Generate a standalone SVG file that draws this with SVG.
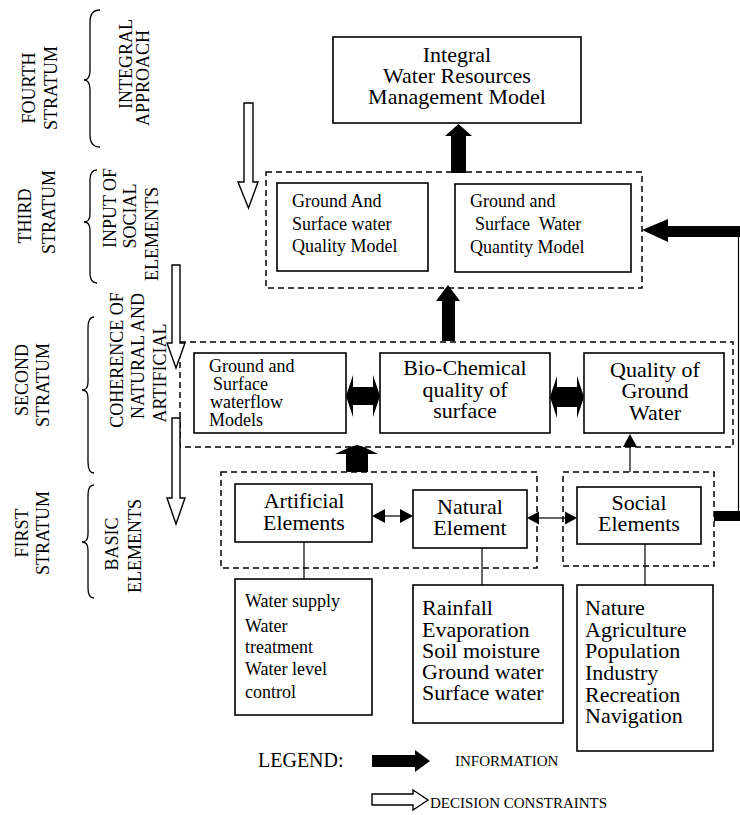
<svg xmlns="http://www.w3.org/2000/svg" width="740" height="815" viewBox="0 0 740 815">
<style>
.t{font-family:"Liberation Serif","Times New Roman",serif;fill:#000}
.box{fill:#fff;stroke:#000;stroke-width:1.6}
.dash{fill:none;stroke:#000;stroke-width:1.5;stroke-dasharray:6 4}
.info{fill:#000;stroke:none}
.hollow{fill:#fff;stroke:#000;stroke-width:1.4;stroke-linejoin:miter}
.thin{fill:none;stroke:#000;stroke-width:1.2}
.brace{fill:none;stroke:#000;stroke-width:1.3}
.lbl{font-size:18px}
.b22{font-size:22px}
.b18{font-size:18px}
</style>
<rect width="740" height="815" fill="#fff"/>

<g id="strata-labels">
  <path class="brace" d="M100,10 Q90,10 90,22 L90,70 Q90,80 84,80 Q90,80 90,90 L90,135 Q90,147 100,147"/>
  <path class="brace" d="M97,170 Q90,170 90,180 L90,214 Q90,222 84,222 Q90,222 90,230 L90,273 Q90,283 97,283"/>
  <path class="brace" d="M94,317 Q88,317 88,328 L88,382 Q88,390 82,390 Q88,390 88,398 L88,462 Q88,473 94,473"/>
  <path class="brace" d="M94,485 Q88,485 88,495 L88,534 Q88,542 82,542 Q88,542 88,550 L88,588 Q88,598 94,598"/>
  <text class="t lbl" text-anchor="middle" transform="translate(35,88) rotate(-90)">FOURTH</text>
  <text class="t lbl" text-anchor="middle" transform="translate(57,88) rotate(-90)">STRATUM</text>
  <text class="t lbl" text-anchor="middle" transform="translate(132,64) rotate(-90)">INTEGRAL</text>
  <text class="t lbl" text-anchor="middle" transform="translate(149,78) rotate(-90)">APPROACH</text>
  <text class="t lbl" text-anchor="middle" transform="translate(31,216) rotate(-90)">THIRD</text>
  <text class="t lbl" text-anchor="middle" transform="translate(55,212) rotate(-90)">STRATUM</text>
  <text class="t lbl" text-anchor="middle" transform="translate(116,208) rotate(-90)">INPUT OF</text>
  <text class="t lbl" text-anchor="middle" transform="translate(136,216) rotate(-90)">SOCIAL</text>
  <text class="t lbl" text-anchor="middle" transform="translate(158,234) rotate(-90)">ELEMENTS</text>
  <text class="t lbl" text-anchor="middle" transform="translate(28,380) rotate(-90)">SECOND</text>
  <text class="t lbl" text-anchor="middle" transform="translate(49,385) rotate(-90)">STRATUM</text>
  <text class="t lbl" text-anchor="middle" transform="translate(123,360) rotate(-90)">COHERENCE OF</text>
  <text class="t lbl" text-anchor="middle" transform="translate(144,356) rotate(-90)">NATURAL AND</text>
  <text class="t lbl" text-anchor="middle" transform="translate(166,373) rotate(-90)">ARTIFICIAL</text>
  <text class="t lbl" text-anchor="middle" transform="translate(28,533) rotate(-90)">FIRST</text>
  <text class="t lbl" text-anchor="middle" transform="translate(49,533) rotate(-90)">STRATUM</text>
  <text class="t lbl" text-anchor="middle" transform="translate(118,544) rotate(-90)">BASIC</text>
  <text class="t lbl" text-anchor="middle" transform="translate(141,546) rotate(-90)">ELEMENTS</text>
</g>

<g id="group-third">
  <rect class="dash" x="266" y="172" width="376" height="116"/>
</g>
<g id="group-second">
  <rect class="dash" x="180" y="342" width="553" height="105"/>
</g>
<g id="group-first-natural">
  <rect class="dash" x="221" y="472" width="316" height="96"/>
</g>
<g id="group-first-social">
  <rect class="dash" x="563" y="472" width="151" height="94"/>
</g>

<g id="connectors">
  <polygon class="hollow" points="244,103 253,103 253,182 258,182 248.5,208 238,182 244,182"/>
  <polygon class="hollow" points="172,265 180,265 180,343 185,343 176,368 167,343 172,343"/>
  <polygon class="hollow" points="172,418 180,418 180,498 185,498 176,524 167,498 172,498"/>
  <polygon class="info" points="451,173 466,173 466,136 472,136 458.5,124 445,136 451,136"/>
  <polygon class="info" points="442,341 455,341 455,301 460,301 448,285 436,301 442,301"/>
  <polygon class="info" points="346,472 346,454 335,454 350,447 357,445 364,447 378,454 368,454 368,472"/>
  <polygon class="info" points="346,396 353,375 353,387 373,387 373,375 380,396 373,417 373,405 353,405 353,417"/>
  <polygon class="info" points="550,397 557,376 557,387 577,387 577,376 584,397 577,418 577,407 557,407 557,418"/>
  <rect class="info" x="714" y="511" width="26" height="10"/>
  <line class="thin" x1="738.5" y1="226" x2="738.5" y2="516" stroke-width="1.6"/>
  <polygon class="info" points="740,226 668,226 668,219 642,230 668,242 668,237 740,237"/>
  <line class="thin" x1="630" y1="446" x2="630" y2="472"/>
  <polygon class="info" points="630,434 637,447 623,447"/>
  <line class="thin" x1="384" y1="516" x2="401" y2="516" stroke-width="2"/>
  <polygon class="info" points="372,516 385,509 385,523"/>
  <polygon class="info" points="413,516 400,509 400,523"/>
  <line class="thin" x1="538" y1="518" x2="566" y2="518" stroke-width="2"/>
  <polygon class="info" points="527,518 539,511.5 539,524.5"/>
  <polygon class="info" points="577,518 565,511.5 565,524.5"/>
  <line class="thin" x1="304" y1="542" x2="304" y2="579"/>
  <line class="thin" x1="482" y1="548" x2="482" y2="585"/>
  <line class="thin" x1="645" y1="544" x2="645" y2="585"/>
</g>

<g id="iwrm">
  <rect class="box" x="333" y="37" width="248" height="86" stroke-width="2"/>
  <text class="t b22" text-anchor="middle" x="457" y="62">Integral</text>
  <text class="t b22" text-anchor="middle" x="457" y="83">Water Resources</text>
  <text class="t b22" text-anchor="middle" x="457" y="104">Management Model</text>
</g>

<g id="quality-model">
  <rect class="box" x="277" y="183" width="151" height="88"/>
  <text class="t b18" x="292" y="207">Ground And</text>
  <text class="t b18" x="292" y="230">Surface water</text>
  <text class="t b18" x="292" y="252">Quality Model</text>
</g>

<g id="quantity-model">
  <rect class="box" x="455" y="184" width="176" height="88"/>
  <text class="t b18" x="470" y="207">Ground and</text>
  <text class="t b18" x="475" y="230" xml:space="preserve">Surface  Water</text>
  <text class="t b18" x="470" y="253">Quantity Model</text>
</g>

<g id="waterflow-models">
  <rect class="box" x="194" y="353" width="152" height="80"/>
  <text class="t b18" x="209" y="372">Ground and</text>
  <text class="t b18" x="213" y="390">Surface</text>
  <text class="t b18" x="210" y="408">waterflow</text>
  <text class="t b18" x="209" y="426">Models</text>
</g>

<g id="biochemical">
  <rect class="box" x="380" y="353" width="170" height="80"/>
  <text class="t b22" text-anchor="middle" x="465" y="375">Bio-Chemical</text>
  <text class="t b22" text-anchor="middle" x="465" y="397">quality of</text>
  <text class="t b22" text-anchor="middle" x="465" y="418">surface</text>
</g>

<g id="groundwater-quality">
  <rect class="box" x="584" y="353" width="140" height="80"/>
  <text class="t b22" text-anchor="middle" x="655" y="377">Quality of</text>
  <text class="t b22" text-anchor="middle" x="655" y="398">Ground</text>
  <text class="t b22" text-anchor="middle" x="655" y="420">Water</text>
</g>

<g id="artificial">
  <rect class="box" x="235" y="484" width="137" height="58"/>
  <text class="t b22" text-anchor="middle" x="304" y="508">Artificial</text>
  <text class="t b22" text-anchor="middle" x="304" y="530">Elements</text>
</g>

<g id="natural">
  <rect class="box" x="413" y="490" width="114" height="58"/>
  <text class="t b22" text-anchor="middle" x="470" y="514">Natural</text>
  <text class="t b22" text-anchor="middle" x="470" y="535">Element</text>
</g>

<g id="social">
  <rect class="box" x="577" y="487" width="124" height="57"/>
  <text class="t b22" text-anchor="middle" x="639" y="510">Social</text>
  <text class="t b22" text-anchor="middle" x="639" y="531">Elements</text>
</g>

<g id="artificial-list">
  <rect class="box" x="235" y="579" width="137" height="136"/>
  <text class="t b18" x="245" y="607">Water supply</text>
  <text class="t b18" x="245" y="632">Water</text>
  <text class="t b18" x="245" y="653">treatment</text>
  <text class="t b18" x="245" y="675">Water level</text>
  <text class="t b18" x="245" y="698">control</text>
</g>

<g id="natural-list">
  <rect class="box" x="413" y="585" width="150" height="138"/>
  <text class="t b22" x="422" y="615">Rainfall</text>
  <text class="t b22" x="422" y="637">Evaporation</text>
  <text class="t b22" x="422" y="658">Soil moisture</text>
  <text class="t b22" x="422" y="679">Ground water</text>
  <text class="t b22" x="422" y="700">Surface water</text>
</g>

<g id="social-list">
  <rect class="box" x="577" y="585" width="136" height="166"/>
  <text class="t b22" x="585" y="615">Nature</text>
  <text class="t b22" x="585" y="637">Agriculture</text>
  <text class="t b22" x="585" y="658">Population</text>
  <text class="t b22" x="585" y="680">Industry</text>
  <text class="t b22" x="585" y="702">Recreation</text>
  <text class="t b22" x="585" y="723">Navigation</text>
</g>

<g id="legend">
  <text class="t" font-size="20" x="258" y="767">LEGEND:</text>
  <polygon class="info" points="372,755 415,755 415,750 430,761 415,772 415,767 372,767"/>
  <text class="t" font-size="15" x="455" y="766">INFORMATION</text>
  <polygon class="hollow" points="372,794 413,794 413,790 428,800 413,810 413,805 372,805"/>
  <text class="t" font-size="15" x="430" y="808">DECISION CONSTRAINTS</text>
</g>
</svg>
